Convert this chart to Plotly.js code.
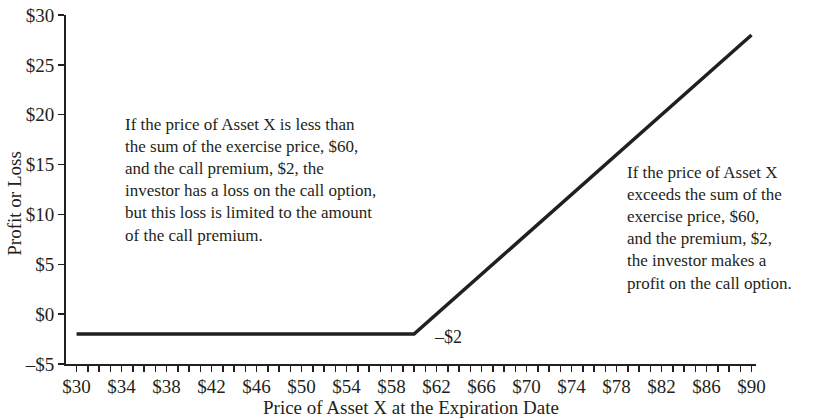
<!DOCTYPE html>
<html>
<head>
<meta charset="utf-8">
<script src="https://cdn.plot.ly/plotly-3.0.1.min.js"></script>
<style>html,body{margin:0;padding:0;background:#fff;}#chart{width:825px;height:419px;}</style>
</head>
<body>
<div id="chart"></div>
<script>
const assetPrice = [30, 60, 90];
const profitLoss = [-2, -2, 28];
const xTickVals = [30, 34, 38, 42, 46, 50, 54, 58, 62, 66, 70, 74, 78, 82, 86, 90];
const xTickText = ['$30','$34','$38','$42','$46','$50','$54','$58','$62','$66','$70','$74','$78','$82','$86','$90'];
const yTickVals = [-5, 0, 5, 10, 15, 20, 25, 30];
const yTickText = ['\u2013$5','$0','$5','$10','$15','$20','$25','$30'];
const xTitle = 'Price of Asset X at the Expiration Date';
const yTitle = 'Profit or Loss';
const leftNote = 'If the price of Asset X is less than<br>the sum of the exercise price, $60,<br>and the call premium, $2, the<br>investor has a loss on the call option,<br>but this loss is limited to the amount<br>of the call premium.';
const rightNote = 'If the price of Asset X<br>exceeds the sum of the<br>exercise price, $60,<br>and the premium, $2,<br>the investor makes a<br>profit on the call option.';
const premiumLabel = '\u2013$2';

const serif = 'Liberation Serif, Times New Roman, serif';
const ink = '#231f20';
const trace = {
  x: assetPrice, y: profitLoss, type: 'scatter', mode: 'lines',
  line: {color: ink, width: 3.5}, hoverinfo: 'skip', showlegend: false
};
const layout = {
  width: 825, height: 419,
  margin: {l: 66, r: 69, t: 15, b: 55},
  paper_bgcolor: '#fff', plot_bgcolor: '#fff',
  font: {family: serif, size: 19, color: ink},
  xaxis: {
    range: [29.06, 90.4], showgrid: false, zeroline: false,
    showline: true, linecolor: ink, linewidth: 2,
    tickmode: 'array', tickvals: xTickVals, ticktext: xTickText,
    ticks: 'outside', ticklen: 6, tickwidth: 1.5, tickcolor: ink,
    minor: {dtick: 1, tick0: 30, ticks: 'outside', ticklen: 6, tickwidth: 1.5, tickcolor: ink, showgrid: false},
    tickfont: {size: 19}, automargin: false, ticklabelstandoff: -2,
    title: {text: xTitle, font: {size: 19}, standoff: 2}
  },
  yaxis: {
    range: [-5, 30], showgrid: false, zeroline: false,
    showline: true, linecolor: ink, linewidth: 2,
    tickmode: 'array', tickvals: yTickVals, ticktext: yTickText,
    ticks: 'outside', ticklen: 6, tickwidth: 1.5, tickcolor: ink,
    tickfont: {size: 19}, automargin: false
  },
  annotations: [
    {xref: 'paper', yref: 'paper', x: -0.075, y: 0.46, xanchor: 'center', yanchor: 'middle', textangle: -90,
     text: yTitle, showarrow: false, font: {size: 19, color: ink}},
    {xref: 'paper', yref: 'paper', x: 0.082, y: 0.527, xanchor: 'left', yanchor: 'middle', align: 'left',
     text: leftNote, showarrow: false, font: {size: 17, color: ink}},
    {xref: 'paper', yref: 'paper', x: 0.81, y: 0.39, xanchor: 'left', yanchor: 'middle', align: 'left',
     text: rightNote, showarrow: false, font: {size: 17, color: ink}},
    {xref: 'x', yref: 'y', x: 60, y: -2, xanchor: 'left', yanchor: 'middle', xshift: 18, yshift: -3, align: 'left',
     text: premiumLabel, showarrow: false, font: {size: 18, color: ink}}
  ]
};
Plotly.newPlot('chart', [trace], layout, {displayModeBar: false, staticPlot: true});
</script>
</body>
</html>
